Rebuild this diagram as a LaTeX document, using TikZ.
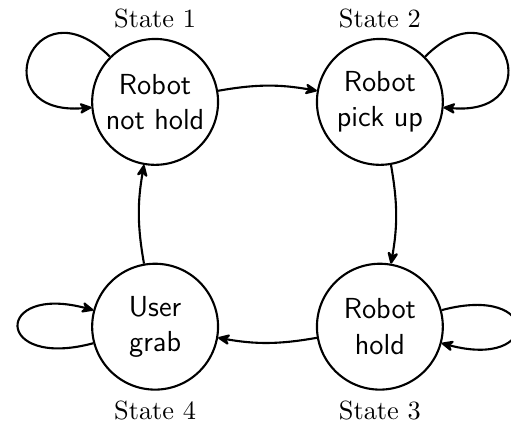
\documentclass[tikz,border=0pt]{standalone}
\usetikzlibrary{arrows.meta}

\begin{document}
\begin{tikzpicture}[>={Stealth[round,length=5.6pt,width=5pt,inset=1.8pt]}, thick]

\def\vertspace{3.0cm}
\def\horispace{3.0cm}

\tikzstyle{phase}=[circle,draw,minimum size=1.68cm,inner sep=0pt,align=center,font=\sffamily\fontsize{11}{13.4}\selectfont]
\tikzstyle{every label}=[font=\rmfamily]

\useasboundingbox (-2.07,-4.39) rectangle (4.75,1.36);

%states
\node[phase,label=above:State 1] (s1) at (0*\horispace, 0*\vertspace) {Robot\\not hold};
\node[phase,label=above:State 2] (s2) at (1*\horispace, 0*\vertspace) {Robot\\pick up};
\node[phase,label=below:State 3] (s3) at (1*\horispace,-1*\vertspace) {Robot\\hold};
\node[phase,label=below:State 4] (s4) at (0*\horispace,-1*\vertspace) {User\\grab};

%transitions
\draw[->] (s1) to[bend left=10] (s2);
\draw[->] (s2) to[bend left=10] (s3);
\draw[->] (s3) to[bend left=10] (s4);
\draw[->] (s4) to[bend left=10] (s1);

% self loops
\draw[->] (s1) to[loop,out=135,in=185,looseness=5.2] (s1);
\draw[->] (s2) to[loop,out=45,in=-5,looseness=5.2] (s2);
\draw[->] (s3) to[loop right] (s3);
\draw[->] (s4) to[loop left] (s4);

\end{tikzpicture}
\end{document}
